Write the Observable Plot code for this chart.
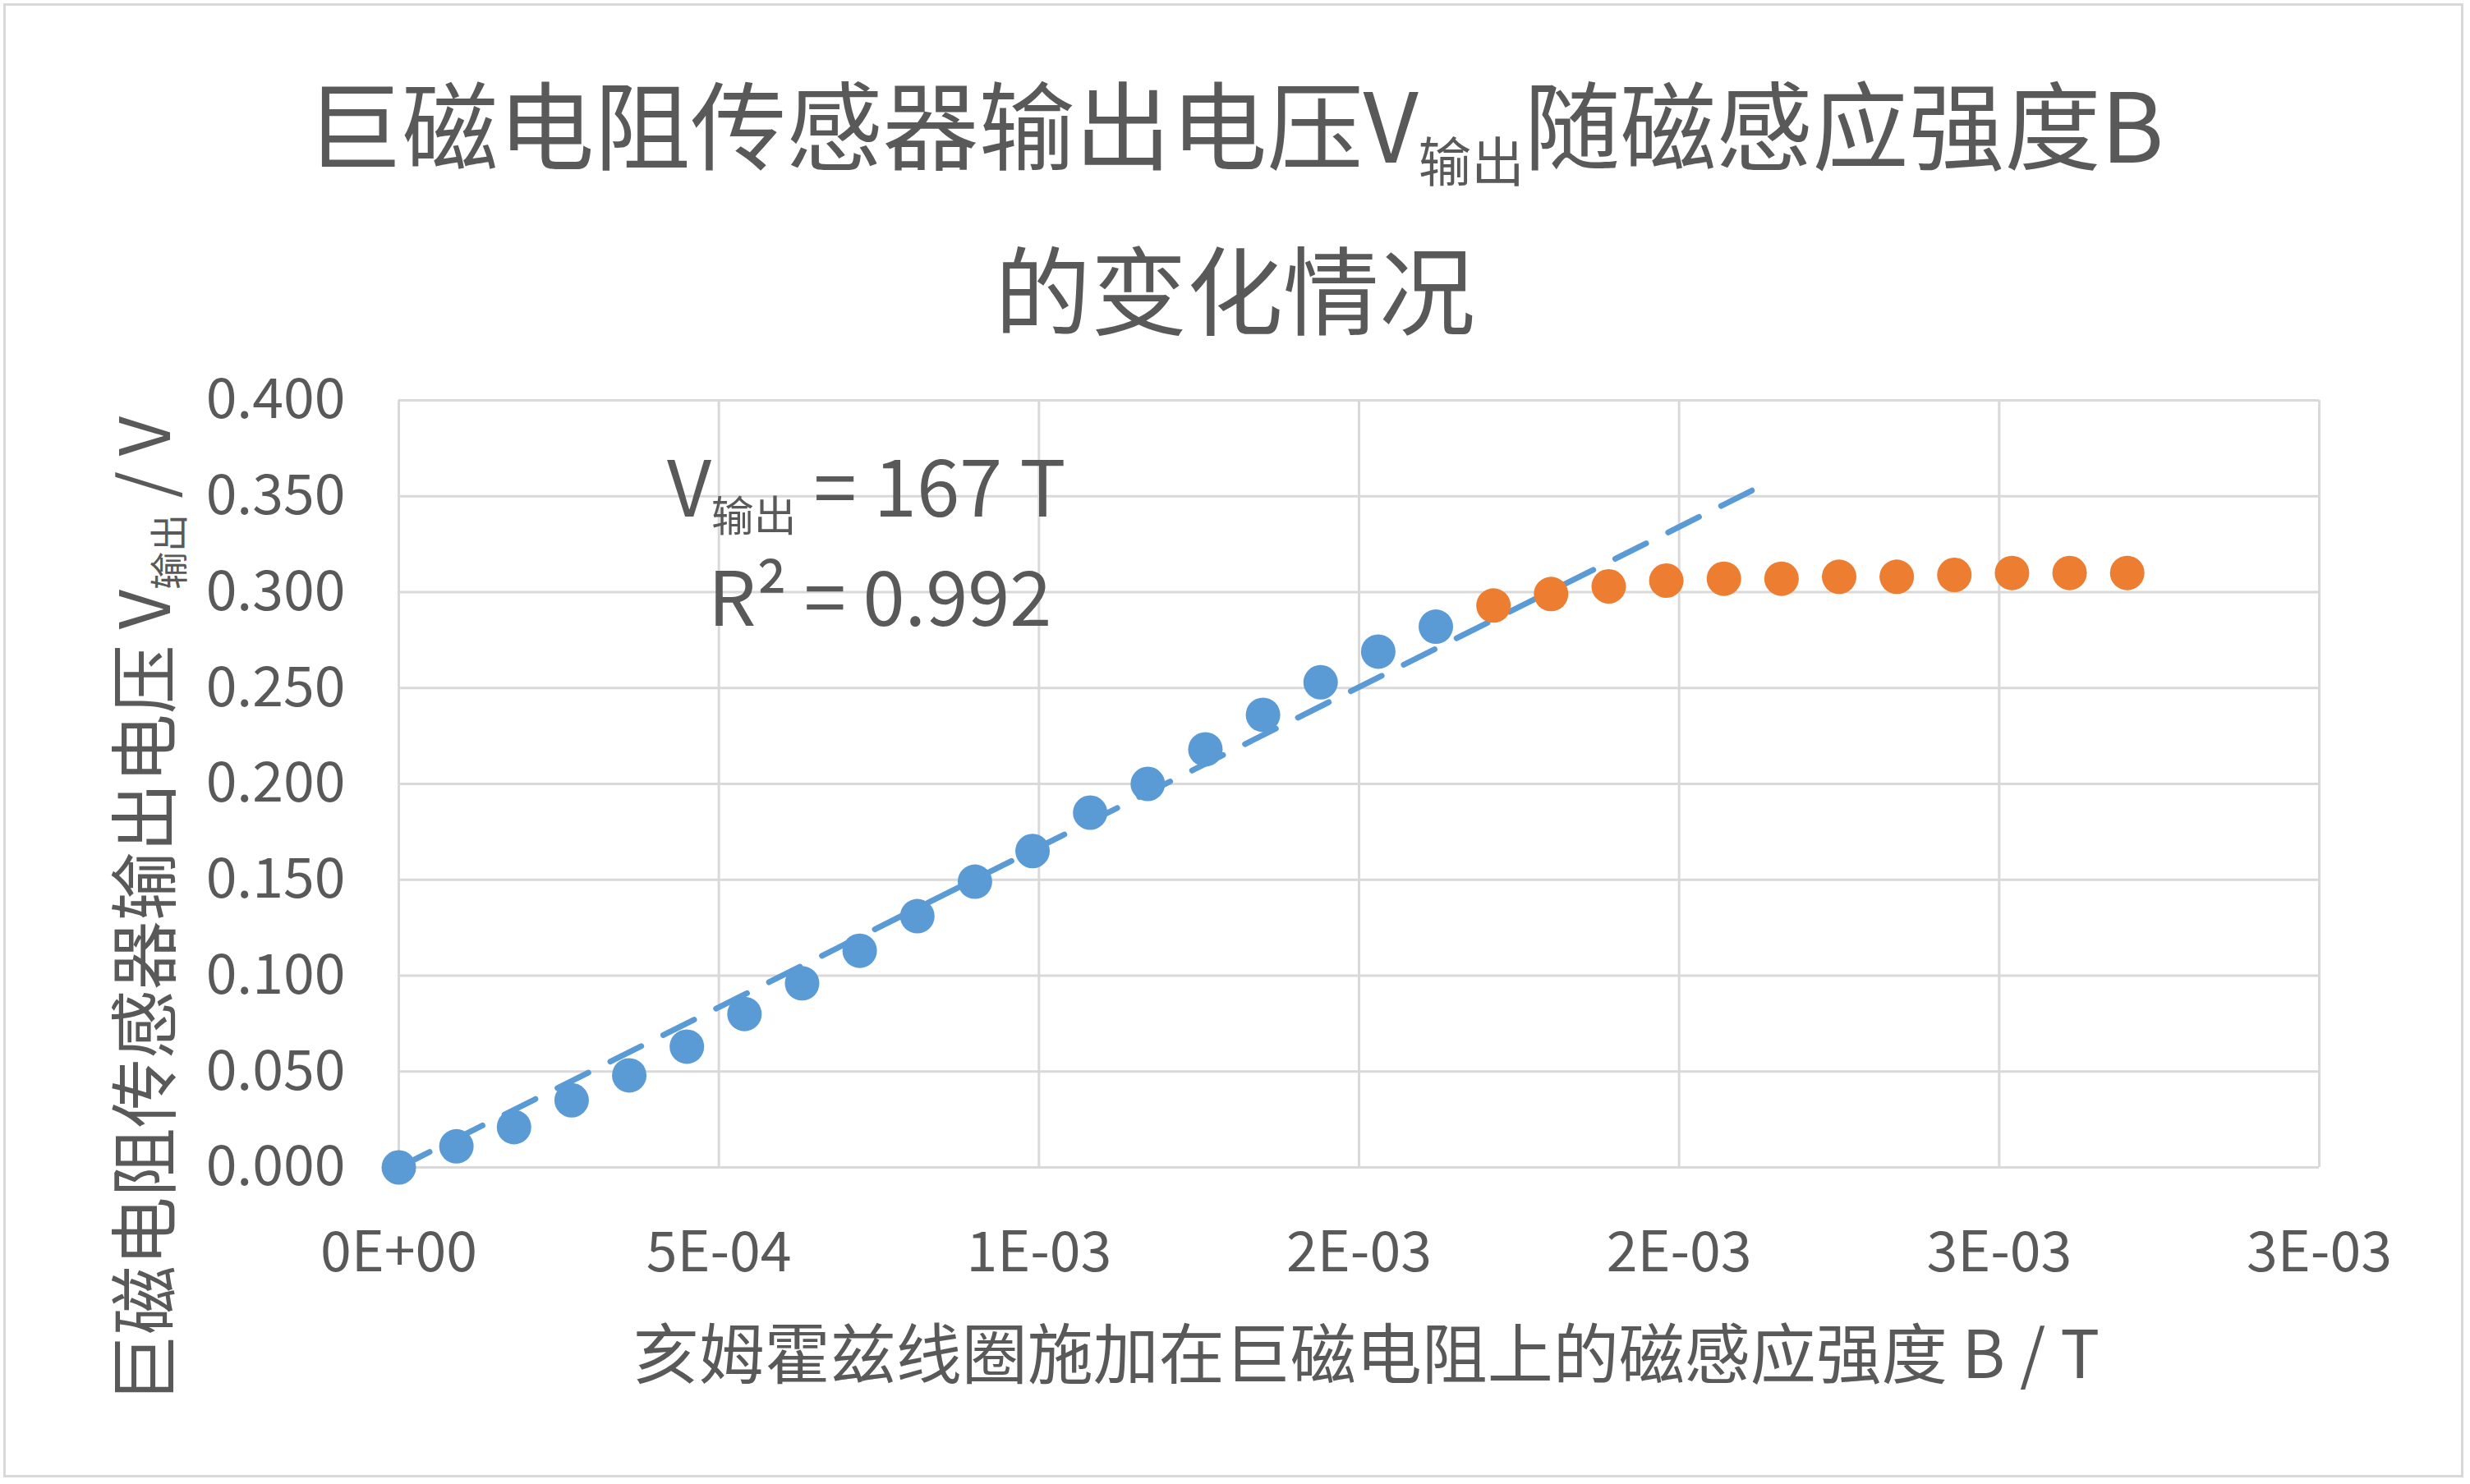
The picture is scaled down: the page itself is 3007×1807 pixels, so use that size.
<!DOCTYPE html>
<html><head><meta charset="utf-8">
<script src="https://cdn.jsdelivr.net/npm/d3@7"></script>
<script src="https://cdn.jsdelivr.net/npm/@observablehq/plot@0.6"></script>
<style>
body{margin:0;background:#fff;font-family:"Noto Sans CJK SC","Noto Sans",sans-serif;color:#595959}
#wrap{position:relative;width:3007px;height:1807px}
#frame{position:absolute;left:4px;top:4px;width:2995px;height:1795px;border:3px solid #d9d9d9;box-sizing:border-box}
.t{position:absolute;white-space:nowrap}
sub{font-size:0.55em;vertical-align:-0.35em}
</style></head><body>
<div id="wrap"><div id="frame"></div><div id="chart"></div>
<div class="t" style="left:0;width:3007px;text-align:center;top:70px;font-size:117px;line-height:155px">巨磁电阻传感器输出电压V<sub>输出</sub>随磁感应强度B<br>的变化情况</div>
<div class="t" style="left:812px;top:520px;font-size:94px">V<sub>输出</sub> = 167 T</div>
<div class="t" style="left:862px;top:655px;font-size:92px">R² = 0.992</div>
<div class="t" style="left:160px;width:3007px;text-align:center;top:1585px;font-size:80px">亥姆霍兹线圈施加在巨磁电阻上的磁感应强度 B / T</div>
<div class="t" style="left:173px;top:1108px;font-size:84px;transform:translate(-50%,-50%) rotate(-90deg)">巨磁电阻传感器输出电压 V<sub>输出</sub> / V</div>
</div>
<script>
const blueB = [0,0.09,0.18,0.27,0.36,0.45,0.54,0.63,0.72,0.81,0.90,0.99,1.08,1.17,1.26,1.35,1.44,1.53,1.62].map(d => d * 1e-3)
const blueV = [0.000,0.011,0.021,0.035,0.048,0.063,0.080,0.096,0.113,0.131,0.149,0.165,0.185,0.200,0.218,0.236,0.253,0.269,0.282]
const orangeB = [1.71,1.80,1.89,1.98,2.07,2.16,2.25,2.34,2.43,2.52,2.61,2.70].map(d => d * 1e-3)
const orangeV = [0.293,0.299,0.303,0.306,0.307,0.307,0.308,0.308,0.309,0.310,0.310,0.310]
const slope = 167
const trendB = [0, 0.00213]
const xTicks = [0, 0.0005, 0.001, 0.0015, 0.002, 0.0025, 0.003]
const xLabels = ['0E+00', '5E-04', '1E-03', '2E-03', '2E-03', '3E-03', '3E-03']
const yTicks = d3.range(0, 0.401, 0.05)

const blue = blueB.map((b, i) => ({b, v: blueV[i]}))
const orange = orangeB.map((b, i) => ({b, v: orangeV[i]}))
const trend = trendB.map(b => ({b, v: slope * b}))

const chart = Plot.plot({
  width: 3007, height: 1807,
  marginLeft: 485, marginRight: 184, marginTop: 487, marginBottom: 386,
  style: {fontFamily: '"Noto Sans CJK SC", sans-serif', color: '#595959', background: 'transparent'},
  x: {domain: [0, 0.003]},
  y: {domain: [0, 0.4]},
  marks: [
    Plot.gridX(xTicks, {stroke: '#d9d9d9', strokeOpacity: 1, strokeWidth: 3}),
    Plot.gridY(yTicks, {stroke: '#d9d9d9', strokeOpacity: 1, strokeWidth: 3}),
    Plot.axisX(xTicks, {tickSize: 0, tickPadding: 78, fontSize: 68, tickFormat: (d, i) => xLabels[i], label: null}),
    Plot.axisY(yTicks, {tickSize: 0, tickPadding: 65, fontSize: 68, tickFormat: d3.format('.3f'), label: null}),
    Plot.line(trend, {x: 'b', y: 'v', stroke: '#5b9bd5', strokeWidth: 7, strokeDasharray: '42,30'}),
    Plot.dot(blue, {x: 'b', y: 'v', r: 21, fill: '#5b9bd5'}),
    Plot.dot(orange, {x: 'b', y: 'v', r: 21, fill: '#ed7d31'})
  ]
})
d3.select('#chart').append(() => chart)
</script>
</body></html>
